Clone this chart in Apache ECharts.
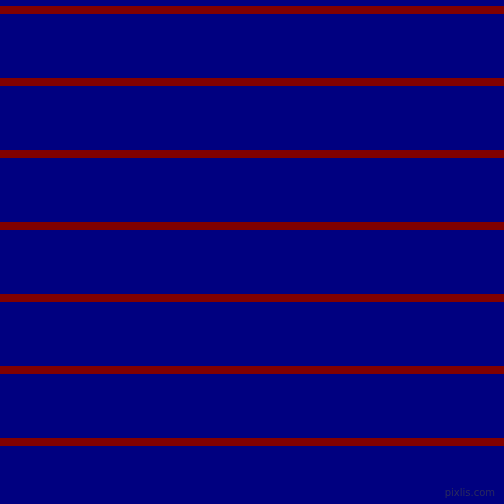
<!DOCTYPE html>
<html>
<head>
<meta charset="utf-8">
<style>
html, body { margin: 0; padding: 0; background: #000080; }
#chart { width: 504px; height: 504px; }
</style>
<script src="https://cdn.jsdelivr.net/npm/echarts@6/dist/echarts.min.js"></script>
</head>
<body>
<div id="chart"></div>
<script>
// pixel rows (from top) where the red lines sit
var lineRows = [10, 82, 154, 226, 298, 370, 442];
var lineColor = '#800000';
var bgColor = '#000080';

var chart = echarts.init(document.getElementById('chart'));

chart.setOption({
  animation: false,
  backgroundColor: bgColor,
  grid: { left: 0, right: 0, top: 0, bottom: 0 },
  xAxis: { type: 'value', min: 0, max: 504, show: false },
  yAxis: { type: 'value', min: 0, max: 504, inverse: true, show: false },
  series: [{
    type: 'line',
    data: [],
    silent: true,
    markLine: {
      silent: true,
      symbol: ['none', 'none'],
      label: { show: false },
      lineStyle: { color: lineColor, width: 8, type: 'solid' },
      emphasis: { disabled: true },
      data: lineRows.map(function (r) { return { yAxis: r }; })
    }
  }],
  graphic: [{
    type: 'text',
    right: 9,
    bottom: 6,
    style: {
      text: 'pixlis.com',
      fill: '#2a2a5e',
      font: '10px "DejaVu Sans"'
    }
  }]
});
</script>
</body>
</html>
